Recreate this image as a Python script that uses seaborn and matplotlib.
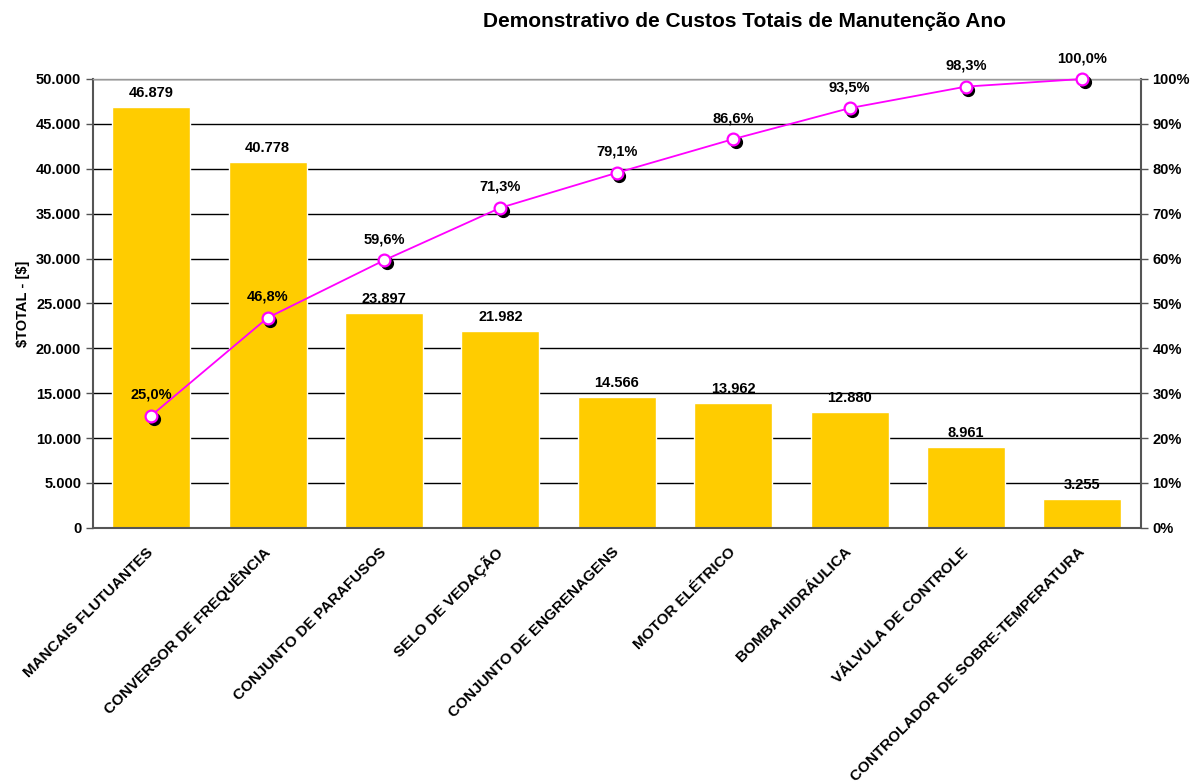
import numpy as np
import matplotlib
matplotlib.use("Agg")
import matplotlib.pyplot as plt
import seaborn as sns
from matplotlib.ticker import FuncFormatter, FixedLocator
from matplotlib.transforms import offset_copy

# Data
categories = ["MANCAIS FLUTUANTES", "CONVERSOR DE FREQUÊNCIA", "CONJUNTO DE PARAFUSOS",
              "SELO DE VEDAÇÃO", "CONJUNTO DE ENGRENAGENS", "MOTOR ELÉTRICO",
              "BOMBA HIDRÁULICA", "VÁLVULA DE CONTROLE", "CONTROLADOR DE SOBRE-TEMPERATURA"]
costs = [46879, 40778, 23897, 21982, 14566, 13962, 12880, 8961, 3255]
cum_pct = [25.0, 46.8, 59.6, 71.3, 79.1, 86.6, 93.5, 98.3, 100.0]
y_ticks = [0, 5000, 10000, 15000, 20000, 25000, 30000, 35000, 40000, 45000, 50000]
pct_ticks = [0, 10, 20, 30, 40, 50, 60, 70, 80, 90, 100]

sns.set_style("white")
plt.rcParams['font.family'] = ['Liberation Sans', 'DejaVu Sans']
plt.rcParams['font.weight'] = 'bold'
plt.rcParams['text.color'] = 'black'
plt.rcParams['axes.labelcolor'] = 'black'
plt.rcParams['xtick.color'] = 'black'
plt.rcParams['ytick.color'] = 'black'

fig = plt.figure(figsize=(11.93, 7.82), dpi=100)
ax = fig.add_axes([0.078, 0.325, 0.878, 0.574])

bar_color = "#FFCC00"
sns.barplot(x=categories, y=costs, color=bar_color, saturation=1, width=0.67, ax=ax, zorder=2)

def br_fmt(v, pos):
    return f"{v:,.0f}".replace(",", ".")

ax.set_ylim(0, 50000)
ax.set_xlim(-0.5, len(categories) - 0.5)
ax.yaxis.set_major_locator(FixedLocator(y_ticks))
ax.yaxis.set_major_formatter(FuncFormatter(br_fmt))
ax.grid(axis='y', color='black', linewidth=1, zorder=0)
ax.set_axisbelow(True)

for i, v in enumerate(costs):
    ax.annotate(br_fmt(v, None), (i, v), xytext=(0, 5), textcoords='offset points',
                ha='center', va='bottom', fontsize=10.5, fontweight='bold')

# x ticks at category boundaries, labels at centers
ax.set_xticks(np.arange(len(categories)))
ax.set_xticklabels(categories, rotation=45, ha='right', va='center', rotation_mode='anchor',
                   fontsize=11, fontweight='bold')
ax.tick_params(axis='x', which='major', length=0, pad=16)
ax.set_xticks(np.arange(len(categories) + 1) - 0.5, minor=True)
ax.tick_params(axis='x', which='minor', length=5, width=1, color='#555555', direction='out')
ax.tick_params(axis='y', length=5, width=1, color='#555555', labelcolor='black',
               direction='out', labelsize=10.5)
for lab in ax.get_yticklabels():
    lab.set_fontweight('bold')

for side in ['left', 'right', 'bottom']:
    ax.spines[side].set_color('#555555')
    ax.spines[side].set_linewidth(1.5)
ax.spines['top'].set_color('#999999')
ax.spines['top'].set_linewidth(1)

ax.set_ylabel("\\$TOTAL - [\\$]", fontsize=10.5, fontweight='bold', labelpad=4)
ax.set_xlabel("")

# cumulative percentage line
ax2 = ax.twinx()
ax2.set_ylim(0, 100)
ax2.yaxis.set_major_locator(FixedLocator(pct_ticks))
ax2.yaxis.set_major_formatter(FuncFormatter(lambda v, p: f"{v:.0f}%"))
ax2.tick_params(axis='y', length=5, width=1, color='#555555', labelcolor='black',
                direction='out', labelsize=10.5)
for lab in ax2.get_yticklabels():
    lab.set_fontweight('bold')
for side in ['left', 'right', 'bottom', 'top']:
    ax2.spines[side].set_visible(False)

xs = np.arange(len(categories))
shadow = offset_copy(ax2.transData, fig=fig, x=2.5, y=-3, units='dots')
ax2.plot(xs, cum_pct, linestyle='none', marker='o', markersize=8.5,
         color='black', transform=shadow, zorder=3, clip_on=False)
ax2.plot(xs, cum_pct, color='#FF00FF', linewidth=1.3, marker='o', markersize=8.5,
         markerfacecolor='white', markeredgecolor='#FF00FF', markeredgewidth=1.6,
         zorder=4, clip_on=False)

for i, p in enumerate(cum_pct):
    ax2.annotate(f"{p:.1f}%".replace(".", ","), (i, p), xytext=(0, 10), textcoords='offset points',
                 ha='center', va='bottom', fontsize=10.5, fontweight='bold')

fig.text(0.624, 0.972, "Demonstrativo de Custos Totais de Manutenção Ano",
         ha='center', va='center', fontsize=15, fontweight='bold')

fig.savefig("out.png", dpi=100)
